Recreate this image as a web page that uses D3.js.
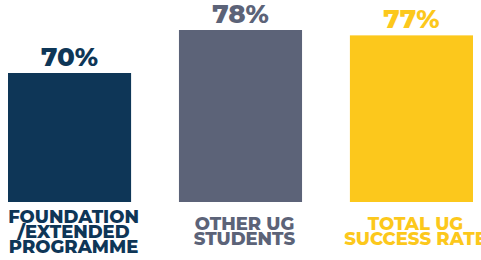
<!DOCTYPE html>
<html>
<head>
<meta charset="utf-8">
<script src="https://cdn.jsdelivr.net/npm/d3@7"></script>
<style>
  html, body { margin: 0; padding: 0; background: #ffffff; }
  svg { display: block; }
  text { font-family: "Montserrat", "Inter", "Lato", sans-serif; font-weight: 800; }
</style>
</head>
<body>
<svg id="chart" width="481" height="260"></svg>
<script>
const categories = ["FOUNDATION\n/EXTENDED\nPROGRAMME", "OTHER UG\nSTUDENTS", "TOTAL UG\nSUCCESS RATE"];
const values = [70, 78, 77];
const colors = ["#0e3657", "#5c6378", "#fcc81c"];
const valueLabels = ["70%", "78%", "77%"];

const W = 481, H = 260;
const svg = d3.select("#chart");

const x = d3.scaleBand()
  .domain(categories)
  .range([8, 473])
  .paddingInner(0.28)
  .paddingOuter(0);

const y = d3.scaleLinear()
  .domain([46, 78])
  .range([202, 30]);

const data = categories.map((c, i) => ({ cat: c, value: values[i], color: colors[i], label: valueLabels[i] }));

svg.selectAll("rect.bar")
  .data(data)
  .join("rect")
  .attr("class", "bar")
  .attr("x", d => x(d.cat))
  .attr("width", x.bandwidth())
  .attr("y", d => y(d.value))
  .attr("height", d => y.range()[0] - y(d.value))
  .attr("fill", d => d.color);

svg.selectAll("text.val")
  .data(data)
  .join("text")
  .attr("class", "val")
  .attr("x", d => x(d.cat) + x.bandwidth() / 2)
  .attr("y", d => y(d.value) - 7)
  .attr("text-anchor", "middle")
  .attr("font-size", 26)
  .attr("fill", d => d.color)
  .text(d => d.label);

const lineH = 15;
const catG = svg.selectAll("text.cat")
  .data(data)
  .join("text")
  .attr("class", "cat")
  .attr("text-anchor", "middle")
  .attr("font-size", 18)
  .attr("fill", d => d.color);

catG.each(function(d) {
  const lines = d.cat.split("\n");
  const cx = x(d.cat) + x.bandwidth() / 2 + 4;
  const first = 237.5 - (lines.length - 1) * lineH / 2;
  d3.select(this).selectAll("tspan")
    .data(lines)
    .join("tspan")
    .attr("x", cx)
    .attr("y", (l, i) => first + i * lineH)
    .text(l => l);
});
</script>
</body>
</html>
